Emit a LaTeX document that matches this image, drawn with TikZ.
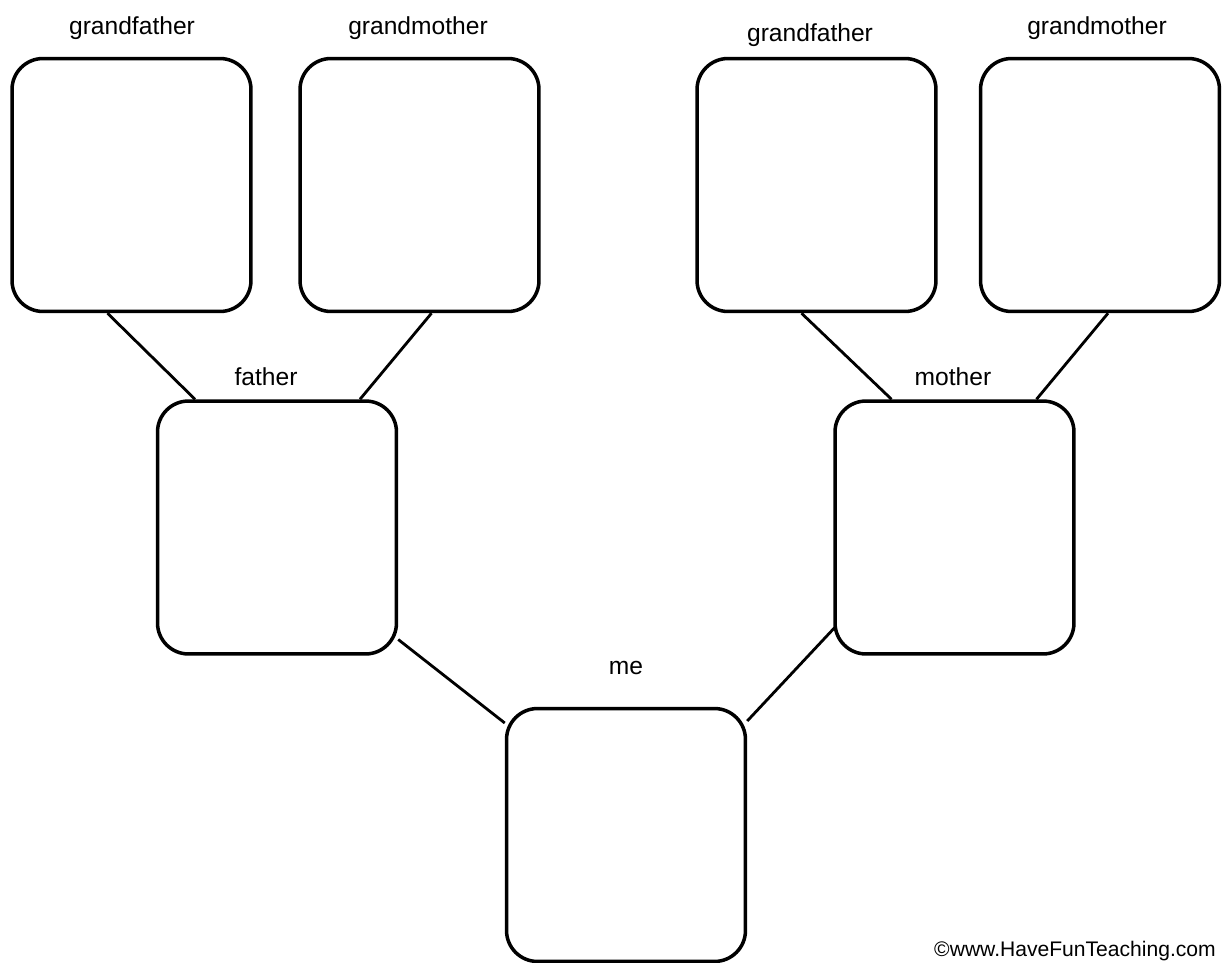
\documentclass[tikz,border=0pt]{standalone}
\usepackage{fontspec}
\setmainfont{Liberation Sans}
\usetikzlibrary{calc}

\begin{document}
\begin{tikzpicture}[x=0.02cm, y=-0.02cm,
  person/.style={draw, line width=2pt, rounded corners=0.62cm,
    minimum width=4.78cm, minimum height=5.06cm, inner sep=0pt},
  tag/.style={font=\fontsize{14}{16}\selectfont},
  link/.style={line width=1.6pt}]
\useasboundingbox (0,0) rectangle (1227,963);
% grandparents
\node[person] (gfa) at (131.5,185) {};
\node[person] (gma) at (419.5,185) {};
\node[person] (gfb) at (816.5,185) {};
\node[person] (gmb) at (1100,185) {};
% parents and me
\node[person] (fa) at (277,527.5) {};
\node[person] (mo) at (954.5,527.5) {};
\node[person] (me) at (626,835) {};
% labels
\node[tag] at (132,28) {grandfather};
\node[tag] at (418,28) {grandmother};
\node[tag] at (810,35) {grandfather};
\node[tag] at (1097,28) {grandmother};
\node[tag] at (266,377) {father};
\node[tag] at (953,377) {mother};
\node[tag] at (626,668) {me};
\node[font=\fontsize{12}{14}\selectfont, inner sep=0pt] at (1075,951) {©www.HaveFunTeaching.com};
% links
\draw[link] ($(gfa.south)+(-24,0)$) -- ($(fa.north)+(-82,0)$);
\draw[link] ($(gma.south)+(12,0)$) -- ($(fa.north)+(83,0)$);
\draw[link] ($(gfb.south)+(-15,0)$) -- ($(mo.north)+(-63,0)$);
\draw[link] ($(gmb.south)+(8,0)$) -- ($(mo.north)+(82,0)$);
\draw[link] ($(fa.east)+(0,112)$) -- ($(me.west)+(0,-112)$);
\draw[link] ($(mo.east)+(-241,100)$) -- ($(me.east)+(0,-114)$);
\end{tikzpicture}
\end{document}
